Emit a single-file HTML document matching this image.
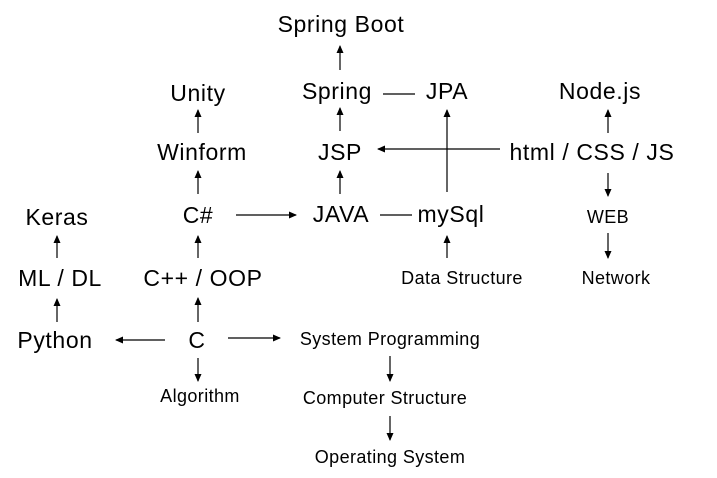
<!DOCTYPE html>
<html><head><meta charset="utf-8"><style>
body{margin:0;background:#fff;}
svg{display:block;font-family:"Liberation Sans","Noto Sans CJK KR",sans-serif;}
.b{font-size:23px;letter-spacing:0.6px}.s{font-size:18px;letter-spacing:0.4px}
</style></head><body>
<svg width="717" height="478" viewBox="0 0 717 478">
<defs><marker id="a" markerWidth="8" markerHeight="8" refX="7" refY="4" orient="auto" markerUnits="userSpaceOnUse"><path d="M0,0.5 L8,4 L0,7.5z" fill="#000"/></marker></defs>
<g text-anchor="middle" fill="#000">
<text class="b" x="341" y="32">Spring Boot</text>
<text class="b" x="337" y="99">Spring</text>
<text class="b" x="447" y="99">JPA</text>
<text class="b" x="198" y="101">Unity</text>
<text class="b" x="600" y="99">Node.js</text>
<text class="b" x="202" y="160">Winform</text>
<text class="b" x="340" y="160">JSP</text>
<text class="b" x="592" y="160">html / CSS / JS</text>
<text class="b" x="57" y="225">Keras</text>
<text class="b" x="198" y="223">C#</text>
<text class="b" x="341" y="222">JAVA</text>
<text class="b" x="451" y="222">mySql</text>
<text class="s" x="608" y="223">WEB</text>
<text class="b" x="60" y="286">ML / DL</text>
<text class="b" x="203" y="286">C++ / OOP</text>
<text class="s" x="462" y="284">Data Structure</text>
<text class="s" x="616" y="284">Network</text>
<text class="b" x="55" y="348">Python</text>
<text class="b" x="197" y="348">C</text>
<text class="s" x="390" y="345">System Programming</text>
<text class="s" x="200" y="402">Algorithm</text>
<text class="s" x="385" y="404">Computer Structure</text>
<text class="s" x="390" y="463">Operating System</text>
</g>
<g stroke="#000" stroke-width="1.2" fill="none" marker-end="url(#a)">
<line x1="340" y1="70" x2="340" y2="46"/>
<line x1="198" y1="133" x2="198" y2="110"/>
<line x1="340" y1="131" x2="340" y2="108"/>
<line x1="447" y1="192" x2="447" y2="110"/>
<line x1="500" y1="149" x2="378" y2="149"/>
<line x1="340" y1="194" x2="340" y2="171"/>
<line x1="198" y1="194" x2="198" y2="171"/>
<line x1="236" y1="215" x2="296" y2="215"/>
<line x1="608" y1="133" x2="608" y2="110"/>
<line x1="608" y1="173" x2="608" y2="196"/>
<line x1="608" y1="233" x2="608" y2="258"/>
<line x1="57" y1="258" x2="57" y2="236"/>
<line x1="198" y1="258" x2="198" y2="236"/>
<line x1="447" y1="258" x2="447" y2="236"/>
<line x1="57" y1="322" x2="57" y2="299"/>
<line x1="198" y1="322" x2="198" y2="298"/>
<line x1="165" y1="340" x2="116" y2="340"/>
<line x1="228" y1="338" x2="280" y2="338"/>
<line x1="198" y1="358" x2="198" y2="381"/>
<line x1="390" y1="356" x2="390" y2="381"/>
<line x1="390" y1="416" x2="390" y2="440"/>
</g>
<g stroke="#000" stroke-width="1.2">
<line x1="383" y1="94" x2="415" y2="94"/>
<line x1="380" y1="215" x2="412" y2="215"/>
</g>
</svg>
</body></html>
